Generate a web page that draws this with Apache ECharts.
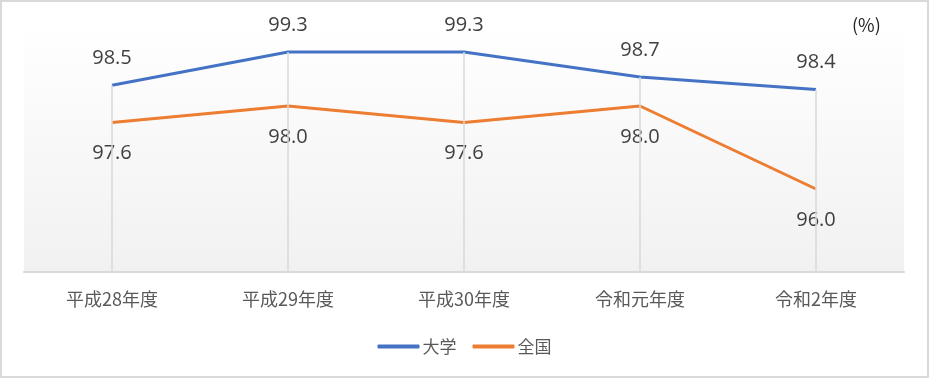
<!DOCTYPE html>
<html><head><meta charset="utf-8">
<script src="https://cdn.jsdelivr.net/npm/echarts@6/dist/echarts.min.js"></script>
<style>html,body{margin:0;padding:0;background:#fff}#c{width:929px;height:378px}</style>
</head><body><div id="c"></div>
<script>
const categories = ['平成28年度','平成29年度','平成30年度','令和元年度','令和2年度'];
const daigaku = [98.5, 99.3, 99.3, 98.7, 98.4];
const zenkoku = [97.6, 98.0, 97.6, 98.0, 96.0];
const yMin = 94, yMax = 100;

const chart = echarts.init(document.getElementById('c'));
const font = '"Noto Sans CJK JP", "Noto Sans", sans-serif';
const dropLines = categories.map((c, i) => [
  {coord: [i, Math.max(daigaku[i], zenkoku[i])]},
  {coord: [i, yMin]}
]);
chart.setOption({
  animation: false,
  textStyle: {fontFamily: font},
  graphic: [{
    type: 'rect', shape: {x: 1, y: 1, width: 927, height: 376},
    style: {fill: 'none', stroke: '#d9d9d9', lineWidth: 2}, z: -10
  }, {
    type: 'text', left: 852, top: 16,
    style: {text: '(%)', font: '18px ' + font, fill: '#262626'}
  }],
  grid: {
    left: 24, right: 25, top: 23, bottom: 106, show: true, borderWidth: 0,
    backgroundColor: {type: 'linear', x: 0, y: 0, x2: 0, y2: 1,
      colorStops: [{offset: 0, color: '#ffffff'}, {offset: 1, color: '#f1f1f1'}]}
  },
  legend: {
    bottom: 18, left: 'center', itemWidth: 42, itemHeight: 4, itemGap: 16,
    icon: 'roundRect',
    textStyle: {fontSize: 17, color: '#595959', fontFamily: font, padding: [0, 0, 0, -2]},
    data: ['大学', '全国']
  },
  xAxis: {
    type: 'category', data: categories, boundaryGap: true,
    axisLine: {lineStyle: {color: '#d9d9d9', width: 2}},
    axisTick: {show: false},
    axisLabel: {fontSize: 18, color: '#595959', margin: 18, fontFamily: font},
    splitLine: {show: false}
  },
  yAxis: {
    type: 'value', min: yMin, max: yMax, show: false
  },
  series: [{
    name: '大学', type: 'line', data: daigaku, color: '#4472c4',
    symbol: 'circle', symbolSize: 0, showSymbol: true,
    lineStyle: {width: 3, color: '#4472c4'},
    label: {show: true, position: 'top', distance: 17, fontSize: 20, color: '#404040',
      fontFamily: '"Open Sans", sans-serif', formatter: p => p.value.toFixed(1)},
    markLine: {
      silent: true, symbol: 'none', label: {show: false},
      lineStyle: {color: '#d9d9d9', width: 1.5, type: 'solid'},
      data: dropLines
    },
    z: 3
  }, {
    name: '全国', type: 'line', data: zenkoku, color: '#ed7d31',
    symbol: 'circle', symbolSize: 0, showSymbol: true,
    lineStyle: {width: 3, color: '#ed7d31'},
    label: {show: true, position: 'bottom', distance: 21, fontSize: 20, color: '#404040',
      fontFamily: '"Open Sans", sans-serif', formatter: p => p.value.toFixed(1)},
    z: 3
  }]
});
</script></body></html>
